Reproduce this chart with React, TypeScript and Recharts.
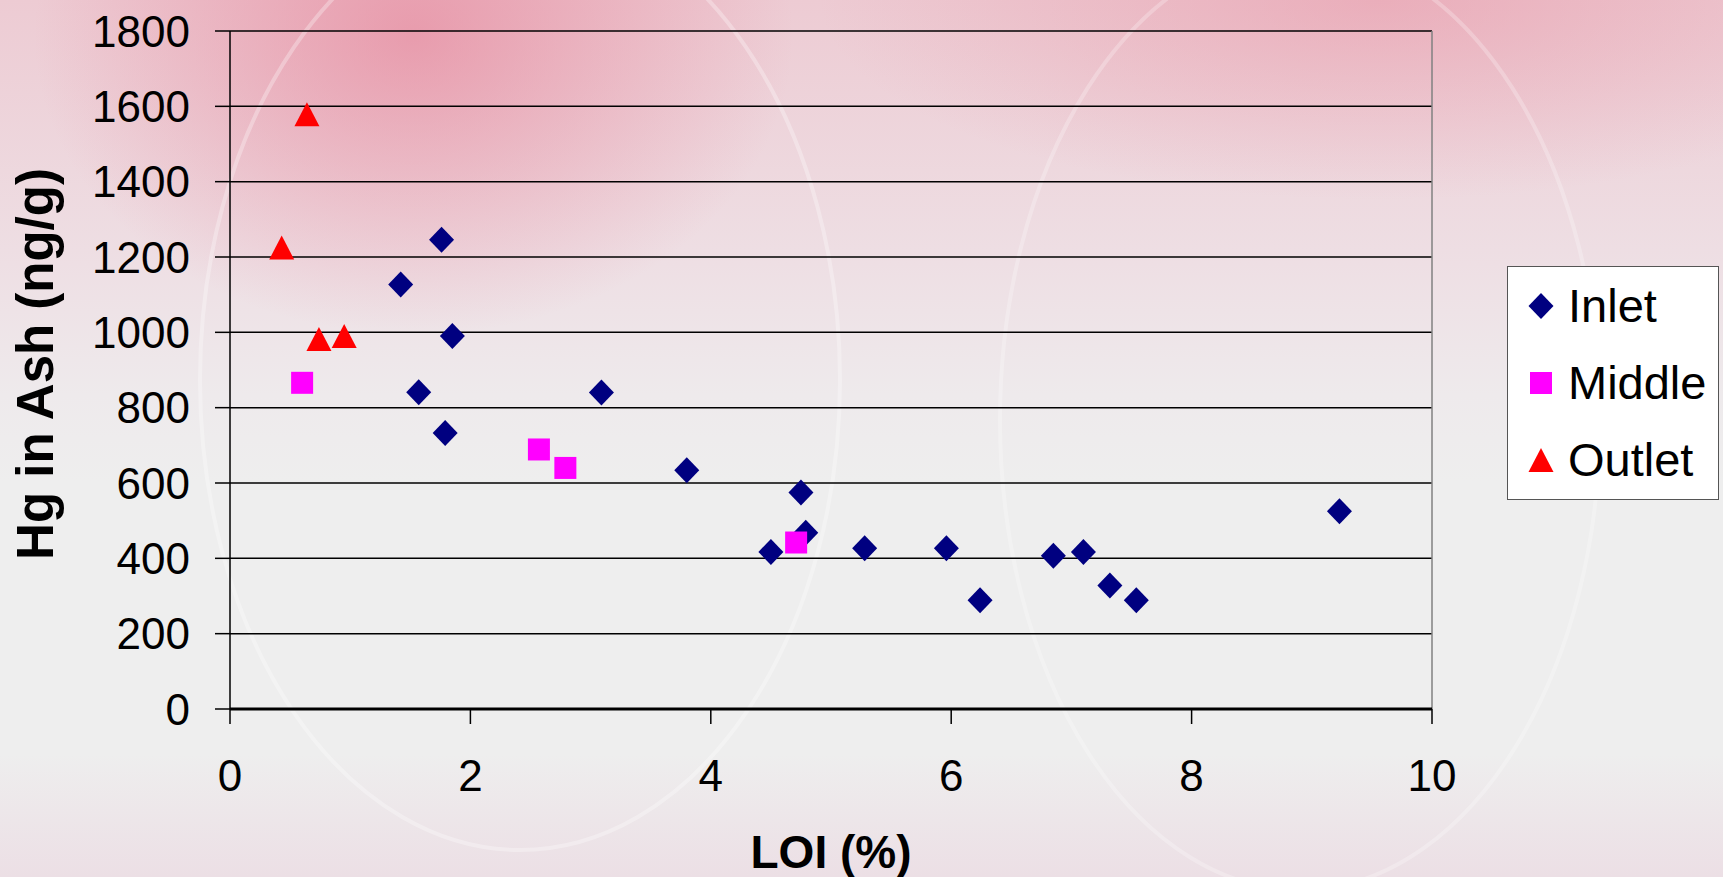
import React from 'react';
import { ScatterChart, Scatter, XAxis, YAxis, CartesianGrid, Legend, Label, ReferenceLine } from 'recharts';

// LOI (%) vs Hg in ash (ng/g)
const inletLoi = [1.42, 1.76, 1.85, 1.57, 1.79, 3.09, 3.8, 4.75, 4.79, 4.5, 5.28, 5.96, 6.24, 6.85, 7.1, 7.32, 7.54, 9.23];
const inletHg = [1127, 1246, 990, 841, 733, 840, 634, 575, 468, 417, 427, 427, 289, 407, 417, 328, 289, 525];
const middleLoi = [0.6, 2.57, 2.79, 4.71];
const middleHg = [866, 689, 640, 442];
const outletLoi = [0.64, 0.43, 0.74, 0.95];
const outletHg = [1579, 1225, 982, 990];

const xTicks = [0, 2, 4, 6, 8, 10];
const yTicks = [0, 200, 400, 600, 800, 1000, 1200, 1400, 1600, 1800];

const FONT = '"Liberation Sans", Arial, sans-serif';

const toPoints = (xs: number[], ys: number[]) => xs.map((x, i) => ({ loi: x, hg: ys[i] }));

const inletData = toPoints(inletLoi, inletHg);
const middleData = toPoints(middleLoi, middleHg);
const outletData = toPoints(outletLoi, outletHg);

const Diamond = ({ cx, cy, fill }: any) => (
  <path d={`M${cx},${cy - 13}L${cx + 12.5},${cy}L${cx},${cy + 13}L${cx - 12.5},${cy}Z`} fill={fill} />
);
const Square = ({ cx, cy, fill }: any) => <rect x={cx - 11} y={cy - 11} width={22} height={22} fill={fill} />;
const Triangle = ({ cx, cy, fill }: any) => (
  <path d={`M${cx},${cy - 12}L${cx + 12.5},${cy + 12}L${cx - 12.5},${cy + 12}Z`} fill={fill} />
);

const series = [
  { name: 'Inlet', color: '#000080', Shape: Diamond },
  { name: 'Middle', color: '#ff00ff', Shape: Square },
  { name: 'Outlet', color: '#ff0000', Shape: Triangle },
];

const renderLegend = () => (
  <div
    style={{
      background: '#ffffff',
      border: '1.5px solid #555',
      boxSizing: 'border-box',
      width: 212,
      height: 234,
      fontFamily: FONT,
    }}
  >
    {series.map((s) => (
      <div key={s.name} style={{ height: 77, display: 'flex', alignItems: 'center' }}>
        <svg width={60} height={40} style={{ flex: 'none' }}>
          <s.Shape cx={33} cy={20} fill={s.color} />
        </svg>
        <span style={{ fontSize: 47, color: '#000', lineHeight: 1 }}>{s.name}</span>
      </div>
    ))}
  </div>
);

const renderYTitle = (props: any) => {
  const { x, y, height } = props.viewBox;
  const cx = x + 35;
  const cy = y + height / 2 - 6;
  return (
    <text
      x={cx}
      y={cy}
      transform={`rotate(-90, ${cx}, ${cy})`}
      textAnchor="middle"
      dominantBaseline="central"
      fontFamily={FONT}
      fontWeight="bold"
      fontSize={51}
      fill="#000"
    >
      Hg in Ash (ng/g)
    </text>
  );
};

const renderXTitle = (props: any) => {
  const { x, y, width } = props.viewBox;
  return (
    <text
      x={x + width / 2}
      y={y + 143}
      textAnchor="middle"
      dominantBaseline="central"
      fontFamily={FONT}
      fontWeight="bold"
      fontSize={46}
      fill="#000"
    >
      LOI (%)
    </text>
  );
};

export default function App() {
  return (
    <div
      style={{
        position: 'absolute',
        left: 0,
        top: 0,
        width: 1723,
        height: 877,
        overflow: 'hidden',
        background:
          'radial-gradient(ellipse 380px 300px at 24% 4%, rgba(228,115,140,0.55), rgba(228,115,140,0) 100%),' +
          'radial-gradient(ellipse 560px 200px at 80% 0%, rgba(230,130,150,0.4), rgba(230,130,150,0) 100%),' +
          'linear-gradient(to bottom, #edcbd3 0%, #eedfe4 30%, #eeeaec 45%, #eeeeee 55%, #eeeeee 86%, #ecdfe5 100%)',
      }}
    >
      <svg width={1723} height={877} style={{ position: 'absolute', left: 0, top: 0 }}>
        <ellipse cx={520} cy={380} rx={320} ry={470} fill="none" stroke="rgba(255,255,255,0.3)" strokeWidth={4} />
        <ellipse cx={1300} cy={420} rx={300} ry={470} fill="none" stroke="rgba(255,255,255,0.25)" strokeWidth={4} />
      </svg>
      <ScatterChart
        width={1723}
        height={877}
        margin={{ top: 31, right: 291, bottom: 0, left: 0 }}
        style={{ position: 'absolute', left: 0, top: 0, fontFamily: FONT }}
      >
        <CartesianGrid horizontal vertical={false} stroke="#000" strokeWidth={1.5} />
        <XAxis
          type="number"
          dataKey="loi"
          domain={[0, 10]}
          ticks={xTicks}
          height={168}
          stroke="#000"
          strokeWidth={3}
          tickSize={15}
          tickMargin={36}
          tickLine={{ stroke: '#000', strokeWidth: 1.5 }}
          tick={{ fill: '#000', fontSize: 44, fontFamily: FONT }}
        >
          <Label content={renderXTitle} />
        </XAxis>
        <YAxis
          type="number"
          dataKey="hg"
          domain={[0, 1800]}
          ticks={yTicks}
          width={230}
          stroke="#000"
          strokeWidth={1.5}
          tickSize={15}
          tickMargin={25}
          tick={{ fill: '#000', fontSize: 44, fontFamily: FONT }}
        >
          <Label content={renderYTitle} />
        </YAxis>
        <ReferenceLine x={10} stroke="#808080" strokeWidth={1.5} />
        <Legend
          layout="vertical"
          align="center"
          verticalAlign="middle"
          wrapperStyle={{ left: 1507, top: 266, width: 212, height: 234 }}
          content={renderLegend}
        />
        <Scatter name="Inlet" data={inletData} fill="#000080" shape={Diamond} isAnimationActive={false} />
        <Scatter name="Middle" data={middleData} fill="#ff00ff" shape={Square} isAnimationActive={false} />
        <Scatter name="Outlet" data={outletData} fill="#ff0000" shape={Triangle} isAnimationActive={false} />
      </ScatterChart>
    </div>
  );
}
